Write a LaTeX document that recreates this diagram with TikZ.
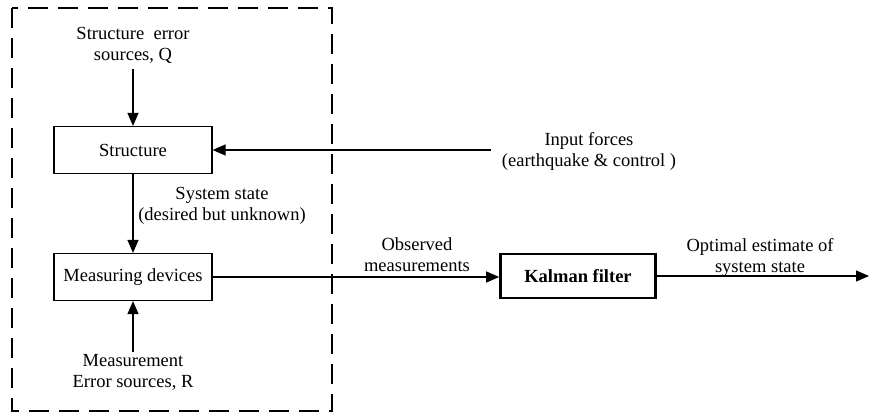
\documentclass[tikz,border=0pt]{standalone}
\usepackage{fontspec}
\setmainfont{Liberation Serif}
\usetikzlibrary{positioning,arrows.meta}
\tikzstyle{sbox}=[rectangle, draw=black, line width=1.2pt, minimum width=158pt,
                  minimum height=47pt, inner sep=2pt, text centered]
\tikzstyle{kbox}=[rectangle, draw=black, line width=2.6pt, minimum width=155pt,
                  minimum height=44pt, inner sep=2pt, text centered]
\tikzstyle{lbl}=[align=center, inner sep=2pt]
\tikzstyle{pline}=[line width=1.2pt, -{Triangle[length=13pt,width=11pt]}]

\begin{document}
\begin{tikzpicture}[x=1pt, y=-1pt, node distance=0mm, font=\fontsize{18.5}{21}\selectfont]
\useasboundingbox (0,0) rectangle (869,414);

\draw[line width=1.2pt, dash pattern=on 20pt off 10pt] (12,8) rectangle (332,411);

\node (STRUCT) [sbox] at (133,150) {Structure};
\node (MEAS) [sbox] at (133,277) {Measuring devices};
\node (KF) [kbox] at (578,276) {\textbf{Kalman filter}};

\node (QSRC) [lbl] at (133,45) {Structure~ error\\sources, Q};
\node (RSRC) [lbl] at (133,372) {Measurement\\Error sources, R};
\node (SYS) [lbl] at (222,206) {System state\\(desired but unknown)};
\node (INF) [lbl] at (589,151) {Input forces\\(earthquake \& control )};
\node (OBS) [lbl] at (417,255) {Observed\\measurements};
\node (OPT) [lbl] at (760,257) {Optimal estimate of\\system state};

\coordinate (FIN) at (491,150);
\coordinate (FOUT) at (869,276);

\draw[pline] (QSRC.south) ++(0,4) -- (STRUCT.north);
\draw[pline] (STRUCT.south) -- (MEAS.north);
\draw[pline] (RSRC.north) -- (MEAS.south);
\draw[pline] (FIN) -- (STRUCT.east);
\draw[pline] (MEAS.east) -- (MEAS.east -| KF.west);
\draw[pline] (KF.east) -- (FOUT);

\end{tikzpicture}
\end{document}
